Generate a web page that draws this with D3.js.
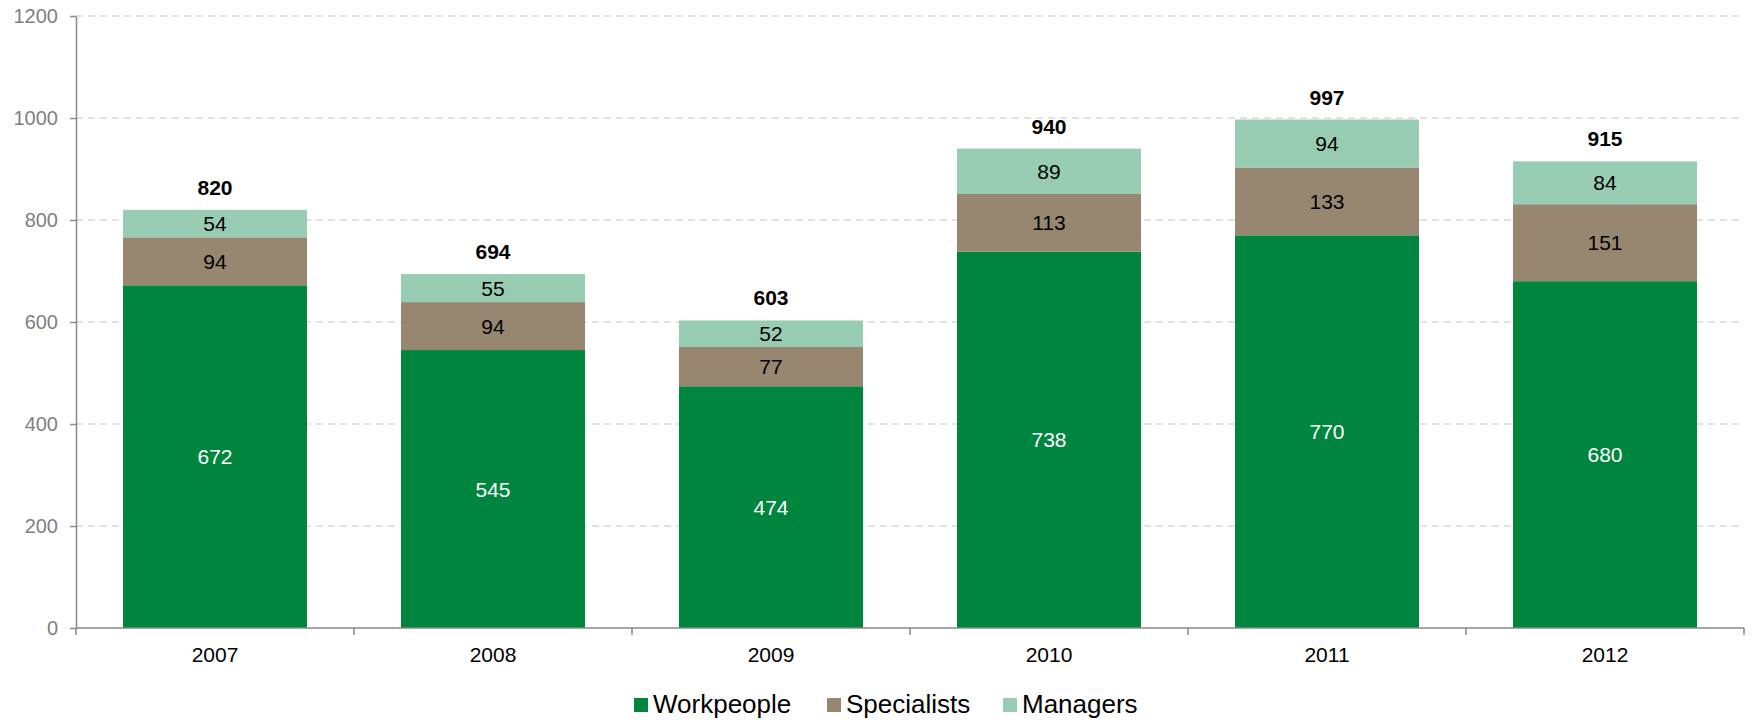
<!DOCTYPE html>
<html>
<head>
<meta charset="utf-8">
<script src="https://cdn.jsdelivr.net/npm/d3@7/dist/d3.min.js"></script>
<style>
  html, body { margin: 0; padding: 0; background: #fff; }
  svg { display: block; font-family: "Liberation Sans", Arial, sans-serif; }
</style>
</head>
<body>
<svg id="chart" width="1752" height="720"></svg>
<script>
// Headcount by year and staff category
const years = ["2007", "2008", "2009", "2010", "2011", "2012"];
const workpeople = [672, 545, 474, 738, 770, 680];
const specialists = [94, 94, 77, 113, 133, 151];
const managers = [54, 55, 52, 89, 94, 84];
const totals = [820, 694, 603, 940, 997, 915];
const seriesNames = ["Workpeople", "Specialists", "Managers"];
const yTicks = [0, 200, 400, 600, 800, 1000, 1200];

const colors = {
  Workpeople: "#00853e",
  Specialists: "#978770",
  Managers: "#99cdb3"
};
const labelColors = { Workpeople: "#ffffff", Specialists: "#000000", Managers: "#000000" };

const svg = d3.select("#chart");
const plotLeft = 76, plotRight = 1744, plotTop = 16, plotBottom = 628;

const rows = years.map((yr, i) => ({
  year: yr,
  Workpeople: workpeople[i],
  Specialists: specialists[i],
  Managers: managers[i],
  total: totals[i]
}));

const x = d3.scaleBand().domain(years).range([plotLeft, plotRight]).paddingInner(0.338).paddingOuter(0.169);
const y = d3.scaleLinear().domain([0, 1200]).range([plotBottom, plotTop]);

// horizontal dashed gridlines
svg.append("g")
  .selectAll("line")
  .data(yTicks.filter(t => t > 0))
  .join("line")
  .attr("x1", plotLeft).attr("x2", plotRight)
  .attr("y1", d => y(d)).attr("y2", d => y(d))
  .attr("stroke", "#d9d9d9")
  .attr("stroke-width", 1.3)
  .attr("stroke-dasharray", "7,5");

// stacked bars
const stack = d3.stack().keys(seriesNames)(rows);
const layers = svg.append("g").selectAll("g")
  .data(stack)
  .join("g")
  .attr("fill", d => colors[d.key]);

layers.selectAll("rect")
  .data(d => d.map(v => ({ key: d.key, v })))
  .join("rect")
  .attr("x", d => x(d.v.data.year))
  .attr("width", x.bandwidth())
  .attr("y", d => y(d.v[1]))
  .attr("height", d => y(d.v[0]) - y(d.v[1]));

// segment value labels
layers.selectAll("text")
  .data(d => d.map(v => ({ key: d.key, v })))
  .join("text")
  .attr("x", d => x(d.v.data.year) + x.bandwidth() / 2)
  .attr("y", d => (y(d.v[0]) + y(d.v[1])) / 2)
  .attr("dy", "0.36em")
  .attr("text-anchor", "middle")
  .attr("font-size", 21)
  .attr("fill", d => labelColors[d.key])
  .text(d => d.v.data[d.key]);

// totals above bars
svg.append("g").selectAll("text")
  .data(rows)
  .join("text")
  .attr("x", d => x(d.year) + x.bandwidth() / 2)
  .attr("y", d => y(d.total) - 15)
  .attr("text-anchor", "middle")
  .attr("font-size", 21)
  .attr("font-weight", "bold")
  .attr("fill", "#000")
  .text(d => d.total);

// y axis
const yAxis = svg.append("g")
  .attr("transform", `translate(${plotLeft},0)`)
  .call(d3.axisLeft(y).tickValues(yTicks).tickFormat(d3.format("d"))
    .tickSize(6).tickPadding(12).tickSizeOuter(0));
yAxis.select(".domain").attr("stroke", "#898989").attr("stroke-width", 1.5);
yAxis.selectAll(".tick line").attr("stroke", "#898989").attr("stroke-width", 1.5);
yAxis.selectAll(".tick text")
  .attr("font-size", 20)
  .attr("font-family", "Liberation Sans, Arial, sans-serif")
  .attr("fill", "#7f7f7f");

// x axis with ticks at category boundaries
const xAxisG = svg.append("g").attr("transform", `translate(0,${plotBottom})`);
xAxisG.append("line")
  .attr("x1", plotLeft).attr("x2", plotRight)
  .attr("stroke", "#898989").attr("stroke-width", 1.5);
const step = x.step();
const boundaries = d3.range(years.length + 1).map(i => plotLeft + i * step);
xAxisG.selectAll("line.tick")
  .data(boundaries)
  .join("line")
  .attr("class", "tick")
  .attr("x1", d => d).attr("x2", d => d)
  .attr("y1", 0).attr("y2", 7)
  .attr("stroke", "#898989").attr("stroke-width", 1.5);
xAxisG.selectAll("text")
  .data(years)
  .join("text")
  .attr("x", d => x(d) + x.bandwidth() / 2)
  .attr("y", 34)
  .attr("text-anchor", "middle")
  .attr("font-size", 21)
  .attr("fill", "#000")
  .text(d => d);

// legend
const legendItems = [
  { name: "Workpeople", x: 634 },
  { name: "Specialists", x: 827 },
  { name: "Managers", x: 1003 }
];
const legend = svg.append("g").selectAll("g")
  .data(legendItems)
  .join("g")
  .attr("transform", d => `translate(${d.x},698)`);
legend.append("rect")
  .attr("width", 14).attr("height", 14)
  .attr("fill", d => colors[d.name]);
legend.append("text")
  .attr("x", 19)
  .attr("y", 15)
  .attr("font-size", 26)
  .attr("fill", "#000")
  .text(d => d.name);
</script>
</body>
</html>
